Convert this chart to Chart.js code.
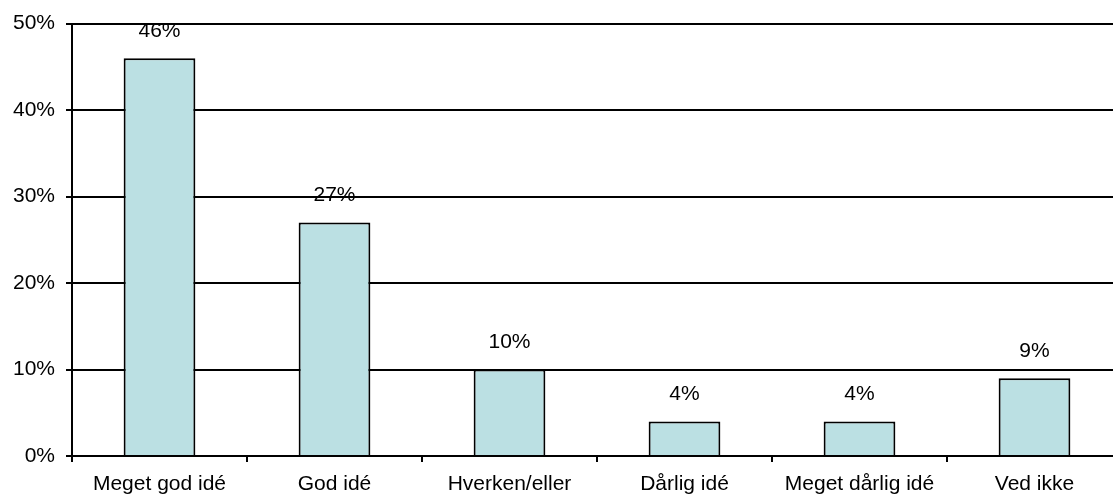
<!DOCTYPE html>
<html><head><meta charset="utf-8">
<script src="https://cdn.jsdelivr.net/npm/chart.js@4"></script>
<style>html,body{margin:0;padding:0;overflow:hidden;background:#fff}#wrap{width:1125px;height:497px}</style>
</head><body><div id="wrap"><canvas id="c" width="1125" height="497"></canvas></div>
<script>
const categories = ["Meget god idé","God idé","Hverken/eller","Dårlig idé","Meget dårlig idé","Ved ikke"];
const values = [46,27,10,4,4,9];
const yTicks = [0,10,20,30,40,50];
const FONT = '"Liberation Sans", Arial, sans-serif';

const labelPlugin = {
  id:'labels',
  afterDatasetsDraw(chart){
    const ctx = chart.ctx;
    const meta = chart.getDatasetMeta(0);
    ctx.save();
    ctx.font = '21px ' + FONT;
    ctx.fillStyle = '#000';
    ctx.textAlign = 'center';
    ctx.textBaseline = 'middle';
    meta.data.forEach((bar,i)=>{
      ctx.fillText(values[i]+'%', bar.x, bar.y-27);
    });
    ctx.restore();
  }
};

new Chart(document.getElementById('c'),{
  type:'bar',
  data:{labels:categories,datasets:[{data:values,backgroundColor:'#BBE0E3',borderColor:'#000',borderWidth:2,barPercentage:1,categoryPercentage:0.41}]},
  options:{
    responsive:false,animation:false,
    layout:{padding:{top:20,left:0,right:3,bottom:0}},
    plugins:{legend:{display:false},tooltip:{enabled:false}},
    scales:{
      x:{
        grid:{offset:true,drawOnChartArea:false,color:'#000',tickLength:6,lineWidth:2},
        border:{color:'#000',width:2},
        ticks:{color:'#000',font:{family:FONT,size:21},padding:10,maxRotation:0},
        afterFit(s){s.height=41;}
      },
      y:{
        min:0,max:50,
        afterBuildTicks(s){s.ticks=yTicks.map(v=>({value:v}));},
        grid:{color:'#000',lineWidth:2,tickLength:6},
        border:{color:'#000',width:2},
        ticks:{color:'#000',font:{family:FONT,size:21},padding:11,callback:v=>v+'%'},
        afterFit(s){s.width=72;}
      }
    }
  },
  plugins:[labelPlugin]
});
</script></body></html>
